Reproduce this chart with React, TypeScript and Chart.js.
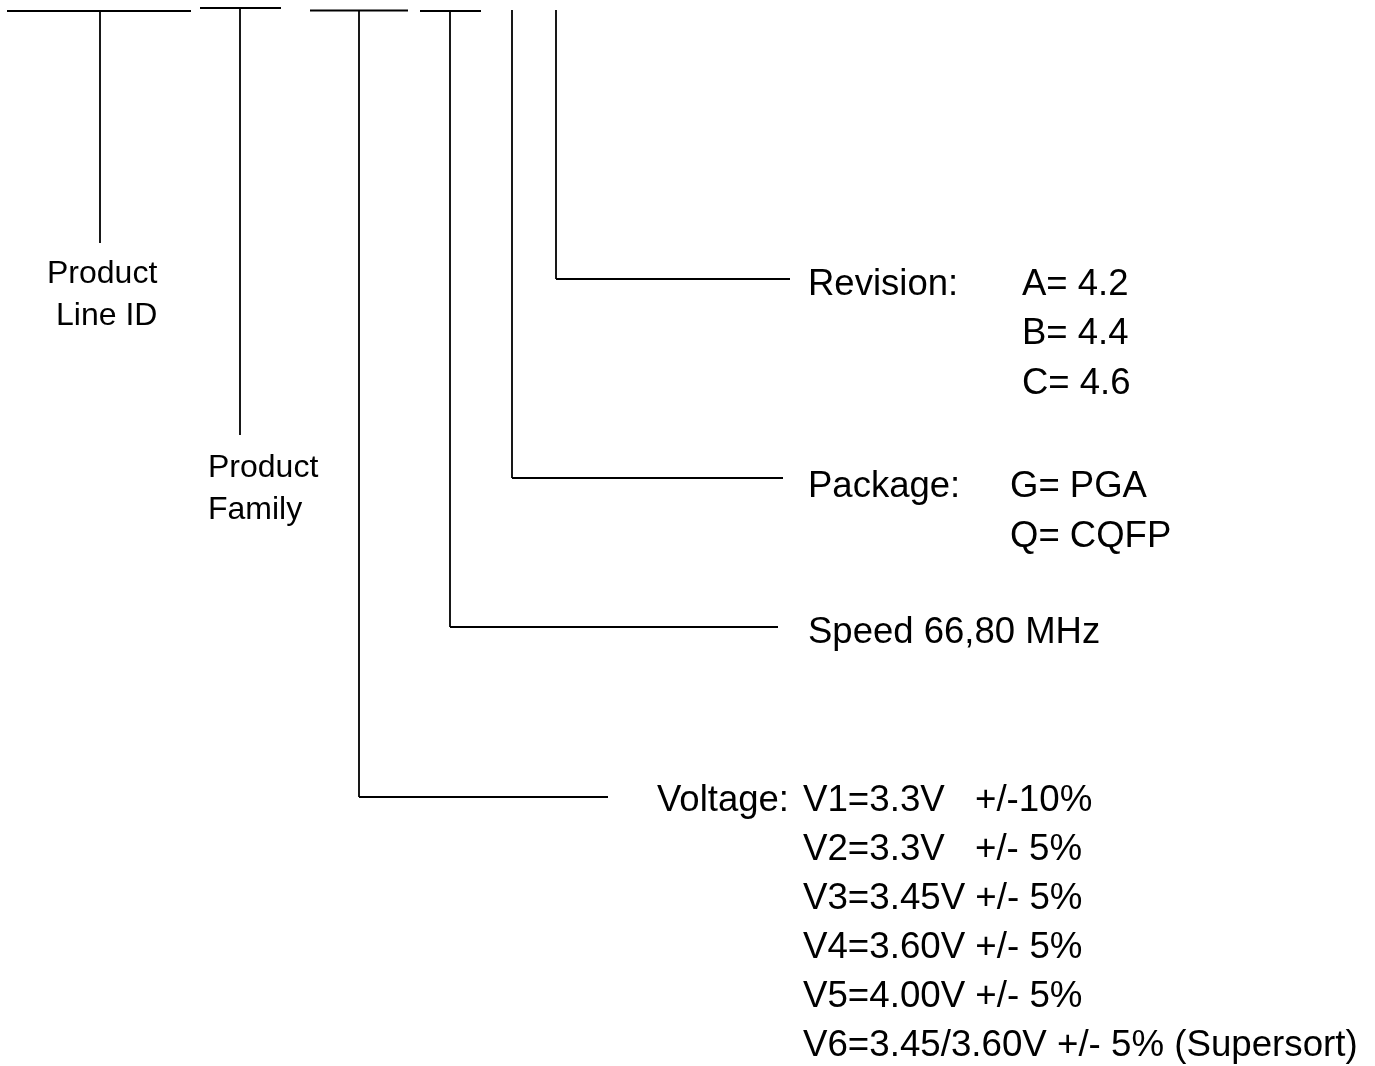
import React, { useEffect, useRef } from "react";
import { Chart, registerables } from "chart.js";

Chart.register(...registerables);

// Horizontal stubs at the top of the part number: [xStart, xEnd, y]
const topBars: number[][] = [
  [7, 191, 11],
  [200, 281, 8],
  [310, 408, 10.5],
  [420, 481, 11],
];

// Vertical drop lines: [x, yTop, yBottom]
const dropLines: number[][] = [
  [100, 11, 243],
  [240, 8, 435],
  [359, 10, 797],
  [450, 11, 627],
  [512, 10, 478],
  [556, 10, 279],
];

// Horizontal leader lines to the descriptions: [xStart, xEnd, y]
const leaders: number[][] = [
  [556, 790, 279],
  [512, 783, 478],
  [450, 778, 627],
  [359, 608, 797],
];

// Small labels under the top fields: [text, x, baseline]
const fieldLabels: [string, number, number][] = [
  ["Product", 47, 283],
  ["Line ID", 56, 325],
  ["Product", 208, 477],
  ["Family", 208, 519],
];

// Description labels: [text, x, baseline]
const descLabels: [string, number, number][] = [
  ["Revision:", 808, 295],
  ["A= 4.2", 1022, 295],
  ["B= 4.4", 1022, 344],
  ["C= 4.6", 1022, 394],
  ["Package:", 808, 497],
  ["G= PGA", 1010, 497],
  ["Q= CQFP", 1010, 547],
  ["Speed 66,80 MHz", 808, 643],
  ["Voltage:", 657, 811],
];

// Voltage options
const voltageCodes: string[] = [
  "V1=3.3V",
  "V2=3.3V",
  "V3=3.45V +/- 5%",
  "V4=3.60V +/- 5%",
  "V5=4.00V +/- 5%",
  "V6=3.45/3.60V +/- 5% (Supersort)",
];
const voltageTolerances: string[] = ["+/-10%", "+/- 5%", "", "", "", ""];
const voltageBaselines: number[] = [811, 860, 909, 958, 1007, 1056];

const FONT = '"Liberation Sans", Arial, Helvetica, sans-serif';

export default function App() {
  const ref = useRef<HTMLCanvasElement | null>(null);

  useEffect(() => {
    if (!ref.current) return;
    const seg = (pts: { x: number; y: number }[]) => ({
      type: "line" as const,
      data: pts,
      showLine: true,
      borderColor: "#000",
      borderWidth: 1.8,
      pointRadius: 0,
      fill: false,
      tension: 0,
    });
    const datasets: any[] = [];
    topBars.forEach(([a, b, y]) => datasets.push(seg([{ x: a, y }, { x: b, y }])));
    dropLines.forEach(([x, a, b]) => datasets.push(seg([{ x, y: a }, { x, y: b }])));
    leaders.forEach(([a, b, y]) => datasets.push(seg([{ x: a, y }, { x: b, y }])));

    const textPlugin = {
      id: "textLabels",
      afterDraw(chart: any) {
        const { ctx, scales } = chart;
        const sx = scales.x;
        const sy = scales.y;
        const draw = (t: string, x: number, y: number, size: number) => {
          if (!t) return;
          ctx.save();
          ctx.font = `${size}px ${FONT}`;
          ctx.fillStyle = "#000";
          ctx.textAlign = "left";
          ctx.textBaseline = "alphabetic";
          ctx.fillText(t, sx.getPixelForValue(x), sy.getPixelForValue(y));
          ctx.restore();
        };
        fieldLabels.forEach(([t, x, y]) => draw(t, x, y, 32));
        descLabels.forEach(([t, x, y]) => draw(t, x, y, 36.5));
        voltageCodes.forEach((t, i) => draw(t, 803, voltageBaselines[i], 36.7));
        voltageTolerances.forEach((t, i) => draw(t, 975, voltageBaselines[i], 36.7));
      },
    };

    const chart = new Chart(ref.current, {
      type: "scatter",
      data: { datasets },
      options: {
        animation: false,
        responsive: true,
        maintainAspectRatio: false,
        layout: { padding: 0 },
        plugins: { legend: { display: false }, tooltip: { enabled: false } },
        events: [],
        scales: {
          x: { type: "linear", min: 0, max: 1375, display: false },
          y: { type: "linear", min: 0, max: 1066, reverse: true, display: false },
        },
      },
      plugins: [textPlugin],
    });
    return () => chart.destroy();
  }, []);

  return (
    <div
      style={{
        position: "fixed",
        left: 0,
        top: 0,
        width: 1375,
        height: 1066,
        background: "#fff",
      }}
    >
      <canvas ref={ref} />
    </div>
  );
}
